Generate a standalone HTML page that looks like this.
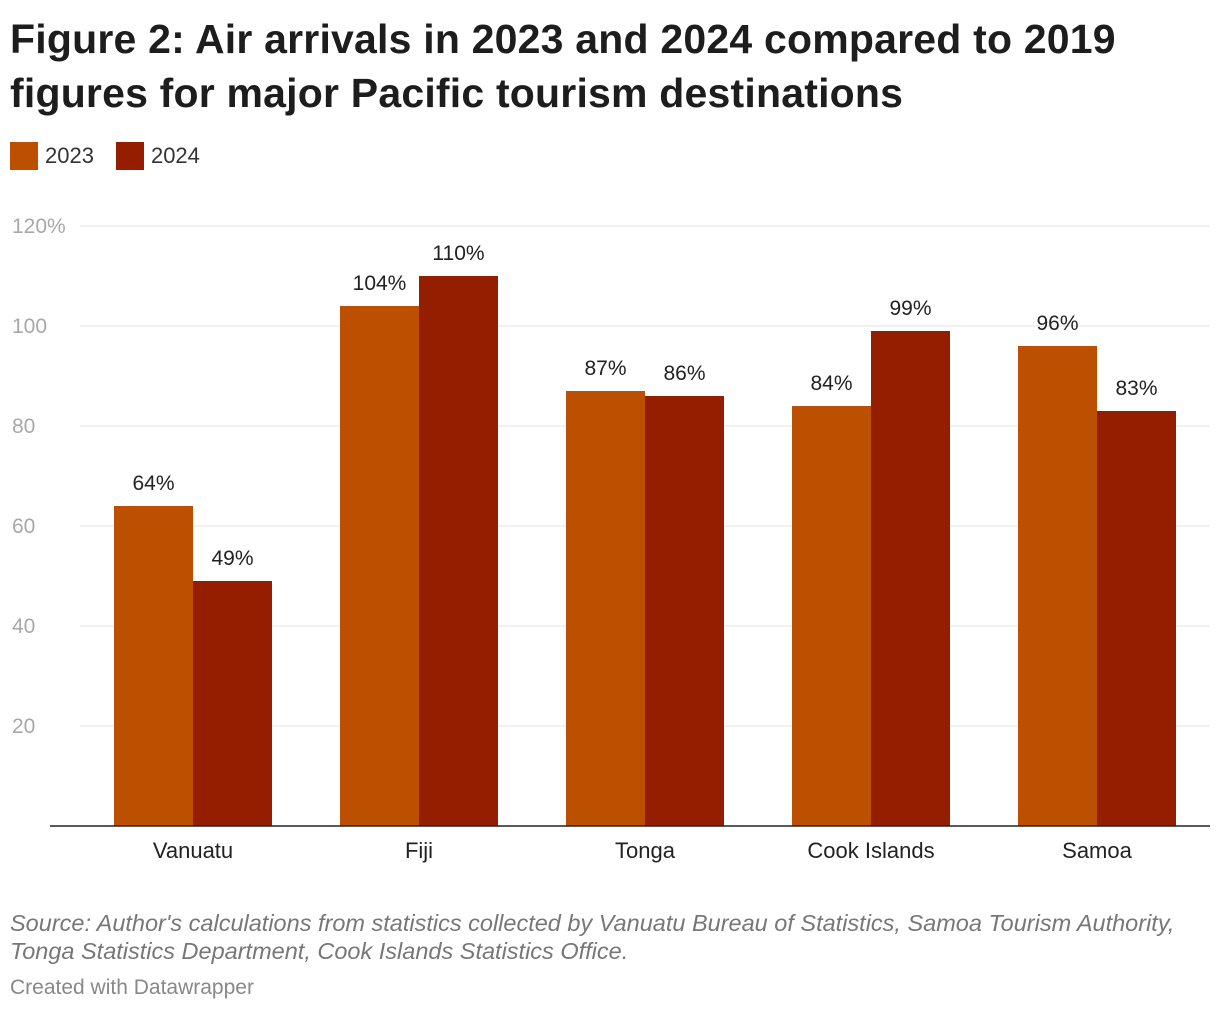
<!DOCTYPE html>
<html><head><meta charset="utf-8">
<style>
body{margin:0;background:#fff;font-family:"Liberation Sans",sans-serif;width:1220px;height:1014px;overflow:hidden;position:relative}
.title{position:absolute;left:10px;top:12px;font-size:41px;font-weight:bold;line-height:54px;color:#1d1d1d;letter-spacing:0.2px;white-space:nowrap}
.legend{position:absolute;top:142px;left:10px;display:flex;align-items:center;font-size:22px;color:#333}
.sw{width:28px;height:28px;display:inline-block;margin-right:7px}
.src{position:absolute;left:10px;top:909px;font-size:23.5px;font-style:italic;color:#777;line-height:28px;white-space:nowrap}
.credit{position:absolute;left:10px;top:976px;font-size:21px;color:#888}
svg{position:absolute;left:0;top:0}
</style></head><body>
<div class="title">Figure 2: Air arrivals in 2023 and 2024 compared to 2019<br>figures for major Pacific tourism destinations</div>
<div class="legend">
<span class="sw" style="background:#bd4f00"></span><span style="margin-right:22px">2023</span>
<span class="sw" style="background:#961e00"></span><span>2024</span>
</div>
<svg id="chart" width="1220" height="1014"></svg>
<div class="src">Source: Author's calculations from statistics collected by Vanuatu Bureau of Statistics, Samoa Tourism Authority,<br>Tonga Statistics Department, Cook Islands Statistics Office.</div>
<div class="credit">Created with Datawrapper</div>
<script>
const categories=["Vanuatu","Fiji","Tonga","Cook Islands","Samoa"];
const values2023=[64,104,87,84,96];
const values2024=[49,110,86,99,83];
const yTicks=[20,40,60,80,100,120];
const yTickLabels=["20","40","60","80","100","120%"];
const svg=document.getElementById('chart');
const NS='http://www.w3.org/2000/svg';
const y=v=>826-v*5;
const xc=i=>193+i*226;
const bw=79;
function mk(t,a){const e=document.createElementNS(NS,t);for(const k in a)e.setAttribute(k,a[k]);svg.appendChild(e);return e;}
yTicks.forEach((t,i)=>{
 const l=mk('line',{x1:80,x2:1210,y1:y(t),y2:y(t),stroke:'#e3e3e3','stroke-width':1});
 
 
 const tx=mk('text',{x:12,y:y(t)+7,'font-size':21,fill:'#a8a8a8'});
 tx.textContent=yTickLabels[i];
 
 
});
categories.forEach((c,i)=>{
 [[values2023,'#bd4f00',-bw,'2023'],[values2024,'#961e00',0,'2024']].forEach(([arr,col,off,s])=>{
  const v=arr[i];
  const r=mk('rect',{x:xc(i)+off,y:y(v),width:bw,height:826-y(v),fill:col});
  
  
  const t=mk('text',{x:xc(i)+off+bw/2,y:y(v)-16,'font-size':21,fill:'#222','text-anchor':'middle'});
  t.textContent=v+'%';
  
  
 });
 const t=mk('text',{x:xc(i),y:858,'font-size':22,fill:'#222','text-anchor':'middle'});
 t.textContent=c;
 
 
});
const ax=mk('line',{x1:50,x2:1210,y1:826,y2:826,stroke:'#222','stroke-width':1.5});


</script>
</body></html>
